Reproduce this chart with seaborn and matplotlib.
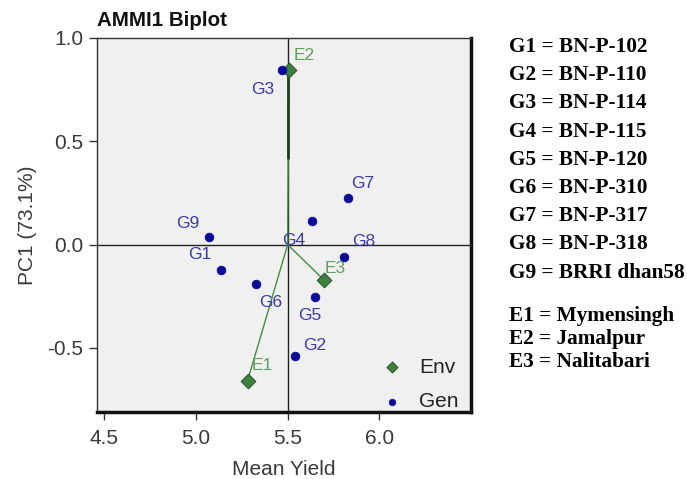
import matplotlib
matplotlib.use("Agg")
import matplotlib.pyplot as plt
import seaborn as sns
import pandas as pd

gen_names = ["G1", "G2", "G3", "G4", "G5", "G6", "G7", "G8", "G9"]
gen_yield = [5.134, 5.538, 5.467, 5.63, 5.648, 5.325, 5.83, 5.806, 5.07]
gen_pc1 = [-0.121, -0.539, 0.845, 0.116, -0.252, -0.19, 0.228, -0.058, 0.039]

env_names = ["E1", "E2", "E3"]
env_yield = [5.281, 5.505, 5.697]
env_pc1 = [-0.66, 0.845, -0.17]

grand_mean = 5.5

key_lines = ["G1 = BN-P-102", "G2 = BN-P-110", "G3 = BN-P-114", "G4 = BN-P-115",
             "G5 = BN-P-120", "G6 = BN-P-310", "G7 = BN-P-317", "G8 = BN-P-318",
             "G9 = BRRI dhan58"]
env_key_lines = ["E1 = Mymensingh", "E2 = Jamalpur", "E3 = Nalitabari"]

# label offsets in pixels (dx, dy) — style only
gen_off = {"G1": (-21, 15), "G2": (20, 10), "G3": (-19, -19), "G4": (-18, -20),
           "G5": (-5, -19), "G6": (15, -19), "G7": (15, 14), "G8": (20, 15), "G9": (-21, 13)}
env_off = {"E1": (15, 15), "E2": (16, 15), "E3": (11, 11)}

sns.set_theme(style="white")
plt.rcParams['font.family'] = ['Liberation Sans', 'DejaVu Sans']

fig = plt.figure(figsize=(6.87, 4.79), dpi=100)
ax = fig.add_axes([0.1412, 0.1399, 0.5444, 0.7808])
ax.set_facecolor("#f0f0f0")

gen_df = pd.DataFrame({"x": gen_yield, "y": gen_pc1, "name": gen_names})
env_df = pd.DataFrame({"x": env_yield, "y": env_pc1, "name": env_names})

ax.axvline(grand_mean, color="#222222", lw=1.0, zorder=1)
ax.axhline(0, color="#222222", lw=1.0, zorder=1)
for xv, yv in zip(env_yield, env_pc1):
    ax.plot([grand_mean, xv], [0, yv], color="#3f8f3f", lw=1.0, zorder=2)
# darker overlap segment near E2
ax.plot([grand_mean, grand_mean], [0.42, env_pc1[1]], color="#1f3f1f", lw=2.0, zorder=2)

sns.scatterplot(data=env_df, x="x", y="y", marker="D", s=55, color="#3f7f3f",
                edgecolor="#2a5a2a", linewidth=0.8, ax=ax, label="Env", zorder=4)
sns.scatterplot(data=gen_df, x="x", y="y", marker="o", s=40, color="#0a0a9a",
                edgecolor="#0a0a9a", linewidth=0.5, ax=ax, label="Gen", zorder=5)

for n, xv, yv in zip(gen_names, gen_yield, gen_pc1):
    dx, dy = gen_off[n]
    ax.annotate(n, (xv, yv), xytext=(dx, dy), textcoords="offset pixels",
                ha="center", va="center", fontsize=12.5, color="#3a3aa8", zorder=6)
for n, xv, yv in zip(env_names, env_yield, env_pc1):
    dx, dy = env_off[n]
    ax.annotate(n, (xv, yv), xytext=(dx, dy), textcoords="offset pixels",
                ha="center", va="center", fontsize=12.5, color="#5f9f5f", zorder=6)

ax.set_xlim(4.46, 6.5)
ax.set_ylim(-0.81, 1.0)
ax.set_xticks([4.5, 5.0, 5.5, 6.0])
ax.set_xticklabels(["4.5", "5.0", "5.5", "6.0"])
ax.set_yticks([-0.5, 0.0, 0.5, 1.0])
ax.set_yticklabels(["-0.5", "0.0", "0.5", "1.0"])
ax.tick_params(axis="both", direction="out", length=6, width=1, color="#333333",
               labelsize=15, labelcolor="#3a3a3a", bottom=True, left=True)
ax.tick_params(axis="x", pad=6)
ax.tick_params(axis="y", pad=4)
ax.set_xlabel("Mean Yield", fontsize=15, color="#3a3a3a", labelpad=9)
ax.set_ylabel("PC1 (73.1%)", fontsize=15, color="#3a3a3a", labelpad=7)

for side in ["top", "left"]:
    ax.spines[side].set_color("#333333")
    ax.spines[side].set_linewidth(1.0)
for side in ["right", "bottom"]:
    ax.spines[side].set_color("#111111")
    ax.spines[side].set_linewidth(2.5)

leg = ax.legend(loc="lower right", bbox_to_anchor=(0.99, -0.02), frameon=False,
                fontsize=15, handletextpad=0.3, labelspacing=0.75, markerscale=0.75,
                borderaxespad=0.0)
for t in leg.get_texts():
    t.set_color("#222222")

fig.text(97 / 687, 1 - 20 / 479, "AMMI1 Biplot", fontsize=14.8, fontweight="bold",
         ha="left", va="center", color="#111111")

y0 = 47
for i, s in enumerate(key_lines):
    fig.text(509 / 687, 1 - (y0 + i * 28.2) / 479, s, fontsize=15.3, fontweight="bold",
             family="Liberation Serif", ha="left", va="center", color="black")
y1 = 316
for i, s in enumerate(env_key_lines):
    fig.text(509 / 687, 1 - (y1 + i * 23) / 479, s, fontsize=15.3, fontweight="bold",
             family="Liberation Serif", ha="left", va="center", color="black")

fig.savefig("out.png", dpi=100, facecolor="white")
